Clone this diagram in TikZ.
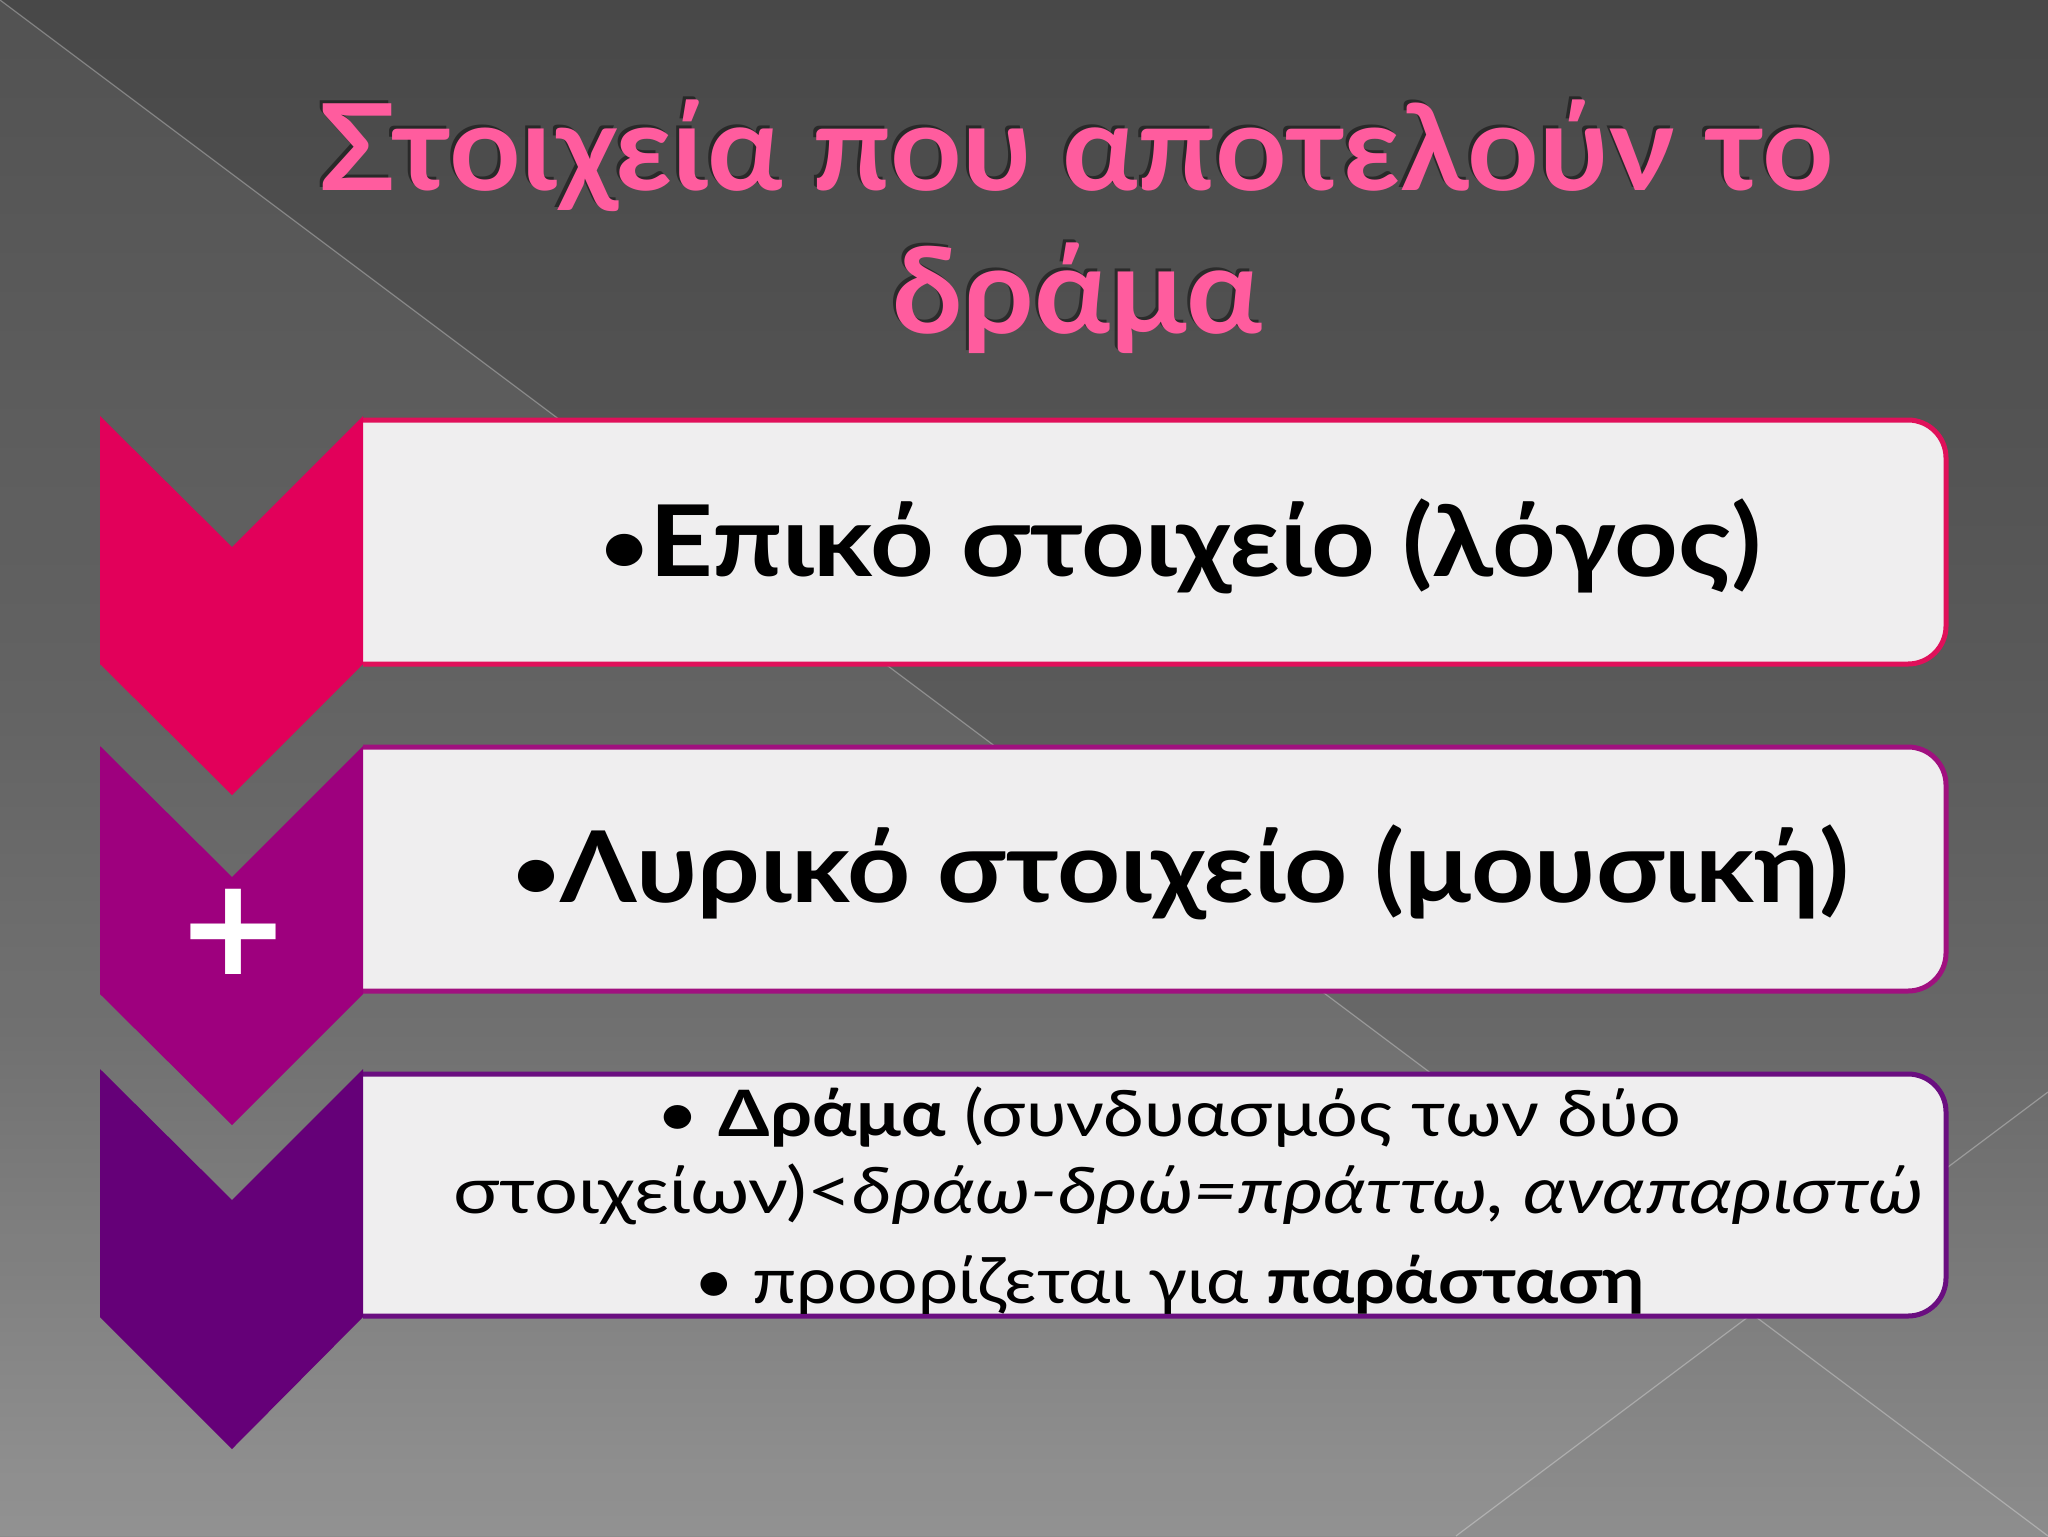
\documentclass[tikz,border=0pt]{standalone}
\usepackage{fontspec}
\usepackage{graphicx}
\setmainfont{Lato}
\newfontfamily\plusfont{DejaVu Sans}
\definecolor{bgA}{HTML}{484848}
\definecolor{bgB}{HTML}{5A5A5A}
\definecolor{bgC}{HTML}{686868}
\definecolor{bgD}{HTML}{8C8C8C}
\definecolor{cpink}{HTML}{E2005A}
\definecolor{cmag}{HTML}{9E007E}
\definecolor{cpur}{HTML}{650078}
\definecolor{bpink}{HTML}{E0105A}
\definecolor{bmag}{HTML}{A0107F}
\definecolor{bpur}{HTML}{6A0E80}
\definecolor{boxfill}{HTML}{EFEEEF}
\definecolor{ttlpink}{HTML}{FF5C9E}
\pgfdeclareverticalshading{bgshade}{100bp}{color(0bp)=(bgD); color(25bp)=(bgD); color(41.5bp)=(bgC); color(52.2bp)=(bgB); color(75bp)=(bgA); color(100bp)=(bgA)}
\newcommand\smbul{\raisebox{2pt}{\scalebox{0.75}{•}}}
\begin{document}
\begin{tikzpicture}[x=0.5pt,y=-0.5pt,
  boxshape/.style={fill=boxfill,line width=2.5pt,rounded corners=19pt},
  bigtext/.style={anchor=base,inner sep=0pt,font=\fontsize{49.5}{59}\selectfont\bfseries,text=black},
  smalltext/.style={anchor=base,inner sep=0pt,font=\fontsize{32}{38}\selectfont,text=black},
  ttlfont/.style={anchor=base,inner sep=0pt,font=\fontsize{60}{72}\selectfont\bfseries},
  ttltext/.style={ttlfont,text=ttlpink},
  ttlshadow/.style={ttlfont,text=black,opacity=0.45},
  facet/.style={fill=white},
  bgline/.style={draw=white,opacity=0.3,line width=0.6pt}]
\useasboundingbox (0,0) rectangle (2048,1536);
% background
\shade[shading=bgshade] (0,0) rectangle (2048,1536);
\fill[facet,opacity=0.06] (0,0) -- (1752,1314) -- (1456,1536) -- (0,1536) -- cycle;
\fill[facet,opacity=0.02] (1752,1314) -- (2048,1536) -- (1456,1536) -- cycle;
\draw[bgline] (0,0) -- (2048,1536);
\draw[bgline] (2048,1092) -- (1456,1536);
% title
\node[ttlshadow] (ttl1s) at (1073,187) {\resizebox{757pt}{\height}{Στοιχεία που αποτελούν το}};
\node[ttlshadow] (ttl2s) at (1074,330) {\resizebox{185pt}{\height}{δράμα}};
\node[ttltext] (ttl1) at (1076,190) {\resizebox{757pt}{\height}{Στοιχεία που αποτελούν το}};
\node[ttltext] (ttl2) at (1077,333) {\resizebox{185pt}{\height}{δράμα}};
% boxes
\path[boxshape,draw=bpink] (363,420) -- (1946,420) -- (1946,664) -- (363,664);
\path[boxshape,draw=bmag] (363,747) -- (1946,747) -- (1946,991) -- (363,991);
\path[boxshape,draw=bpur] (363,1074) -- (1946,1074) -- (1946,1316) -- (363,1316);
% chevrons
\fill[cpink] (100,416) -- (232,547) -- (363,416) -- (363,664) -- (232,795) -- (100,664) -- cycle;
\fill[cmag] (100,746) -- (232,877) -- (363,746) -- (363,994) -- (232,1125) -- (100,994) -- cycle;
\fill[cpur] (100,1069) -- (232,1200) -- (363,1069) -- (363,1317) -- (232,1449) -- (100,1317) -- cycle;
\node[inner sep=0pt,text=white,font=\plusfont\fontsize{68}{68}\selectfont\bfseries] (plus) at (233,932) {+};
% texts
\node[bigtext] (t1) at (1181,576) {\resizebox{580pt}{\height}{\smbul Επικό στοιχείο (λόγος)}};
\node[bigtext] (t2) at (1181,902) {\resizebox{668pt}{\height}{\smbul Λυρικό στοιχείο (μουσική)}};
\node[smalltext] (t3a) at (1169,1136) {\resizebox{512pt}{\height}{• \textbf{Δράμα} (συνδυασμός των δύο}};
\node[smalltext] (t3b) at (1188,1213) {\resizebox{735pt}{\height}{στοιχείων)<\textit{δράω-δρώ=πράττω, αναπαριστώ}}};
\node[smalltext] (t3c) at (1169,1303) {\resizebox{476pt}{\height}{• προορίζεται για \textbf{παράσταση}}};
\end{tikzpicture}
\end{document}
